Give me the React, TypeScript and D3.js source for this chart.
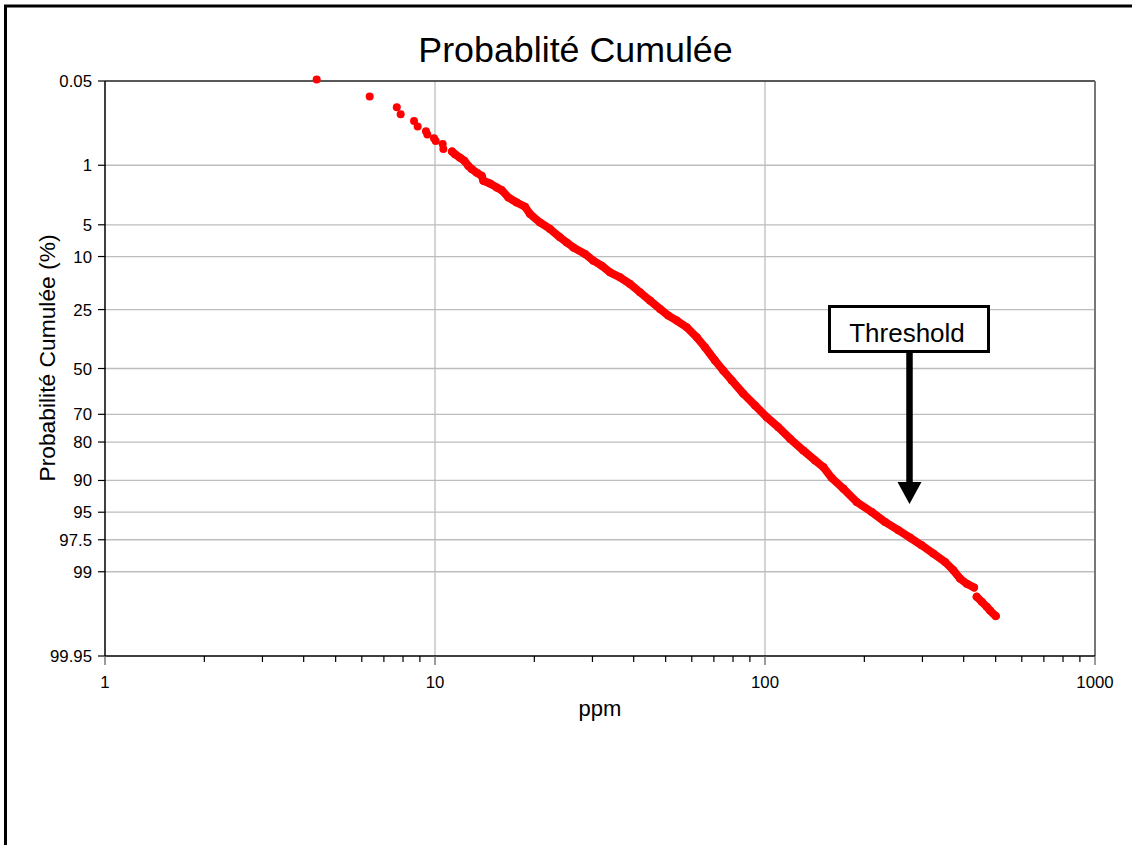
import { useEffect, useRef } from 'react';
import * as d3 from 'd3';

// y axis tick labels (cumulative probability, %)
const probTicks = [0.05, 1, 5, 10, 25, 50, 70, 80, 90, 95, 97.5, 99, 99.95];

// isolated low-end samples
const lowPpm = [4.38, 6.34, 7.66, 7.87, 8.64, 8.86, 9.39, 9.48, 9.93, 10.05, 10.55, 10.6];
const lowPct = [0.047, 0.093, 0.14, 0.18, 0.23, 0.28, 0.33, 0.37, 0.42, 0.46, 0.51, 0.6];

// dense body of the distribution
const mainPpm = [
  11.26, 11.5, 11.9, 12.27, 12.62, 12.92, 13.38, 13.85, 14.01, 14.68, 15.38, 15.93,
  16.68, 17.69, 18.74, 19.41, 20.8, 22.31, 23.92, 25.06, 26.25, 28.48, 30.18, 32.0,
  33.91, 36.36, 38.98, 41.8, 44.83, 48.07, 50.93, 54.0, 57.9, 62.1, 65.8, 70.55,
  74.7, 79.3, 86.0, 93.3, 101.2, 109.7, 119.1, 130.6, 141.8, 150.2, 159.2, 172.7,
  189.6, 210.6, 231.0, 253.5, 275.0, 298.4, 323.6, 351.3, 372.2, 389.9, 408.5, 429.9,
];
const mainPct = [
  0.65, 0.71, 0.79, 0.87, 1.02, 1.12, 1.25, 1.37, 1.58, 1.71, 1.91, 2.06,
  2.51, 2.87, 3.21, 3.85, 4.73, 5.51, 6.67, 7.45, 8.29, 9.49, 10.86, 11.96,
  13.55, 14.84, 16.65, 19.16, 21.86, 24.76, 27.23, 29.16, 31.85, 36.02, 40.4, 46.36,
  50.91, 55.45, 61.37, 66.38, 71.11, 74.89, 78.91, 82.57, 85.35, 87.03, 89.46, 91.54,
  93.67, 94.97, 96.05, 96.79, 97.35, 97.85, 98.29, 98.66, 98.95, 99.19, 99.31, 99.39,
];

// high-end tail
const highPpm = [438.1, 453.7, 469.8, 480.8, 500.3];
const highPct = [99.55, 99.62, 99.68, 99.72, 99.77];

// inverse of the standard normal CDF (Acklam)
function probit(p: number) {
  const a = [-39.69683028665376, 220.9460984245205, -275.9285104469687, 138.357751867269, -30.66479806614716, 2.506628277459239];
  const b = [-54.47609879822406, 161.5858368580409, -155.6989798598866, 66.80131188771972, -13.28068155288572];
  const c = [-0.007784894002430293, -0.3223964580411365, -2.400758277161838, -2.549732539343734, 4.374664141464968, 2.938163982698783];
  const d = [0.007784695709041462, 0.3224671290700398, 2.445134137142996, 3.754408661907416];
  const pl = 0.02425;
  if (p < pl) {
    const q = Math.sqrt(-2 * Math.log(p));
    return (((((c[0] * q + c[1]) * q + c[2]) * q + c[3]) * q + c[4]) * q + c[5]) / ((((d[0] * q + d[1]) * q + d[2]) * q + d[3]) * q + 1);
  }
  if (p <= 1 - pl) {
    const q = p - 0.5;
    const r = q * q;
    return (((((a[0] * r + a[1]) * r + a[2]) * r + a[3]) * r + a[4]) * r + a[5]) * q / (((((b[0] * r + b[1]) * r + b[2]) * r + b[3]) * r + b[4]) * r + 1);
  }
  const q = Math.sqrt(-2 * Math.log(1 - p));
  return -(((((c[0] * q + c[1]) * q + c[2]) * q + c[3]) * q + c[4]) * q + c[5]) / ((((d[0] * q + d[1]) * q + d[2]) * q + d[3]) * q + 1);
}

const FONT = "'Liberation Sans', Arial, sans-serif";

export default function App() {
  const svgRef = useRef<SVGSVGElement>(null);

  useEffect(() => {
    if (!svgRef.current) return;
    const svg = d3.select(svgRef.current);
    svg.selectAll('*').remove();

    const left = 105, right = 1095, top = 81, bottom = 656;

    const x = d3.scaleLog().domain([1, 1000]).range([left, right]);
    const z = d3.scaleLinear().domain([probit(0.0005), probit(0.9995)]).range([top, bottom]);
    const y = (pct: number) => z(probit(pct / 100));

    // outer frame (cropped)
    svg.append('path')
      .attr('d', `M5.5,860 L5.5,6 L1140,6`)
      .attr('fill', 'none')
      .attr('stroke', '#000')
      .attr('stroke-width', 3);

    // horizontal gridlines
    svg.append('g')
      .selectAll('line')
      .data(probTicks.slice(1, -1))
      .enter()
      .append('line')
      .attr('x1', left).attr('x2', right)
      .attr('y1', d => y(d)).attr('y2', d => y(d))
      .attr('stroke', '#bdbdbd')
      .attr('stroke-width', 1.3);

    // vertical gridlines
    svg.append('g')
      .selectAll('line')
      .data([10, 100])
      .enter()
      .append('line')
      .attr('x1', d => x(d)).attr('x2', d => x(d))
      .attr('y1', top).attr('y2', bottom)
      .attr('stroke', '#bdbdbd')
      .attr('stroke-width', 1.3);

    // plot frame
    svg.append('line').attr('x1', left).attr('x2', right).attr('y1', top).attr('y2', top)
      .attr('stroke', '#222').attr('stroke-width', 1.5);
    svg.append('line').attr('x1', right).attr('x2', right).attr('y1', top).attr('y2', bottom)
      .attr('stroke', '#777').attr('stroke-width', 2);

    // y axis
    svg.append('line').attr('x1', left).attr('x2', left).attr('y1', top).attr('y2', bottom)
      .attr('stroke', '#000').attr('stroke-width', 1.5);
    const yTicks = svg.append('g');
    yTicks.selectAll('line')
      .data(probTicks)
      .enter()
      .append('line')
      .attr('x1', left - 7).attr('x2', left)
      .attr('y1', d => y(d)).attr('y2', d => y(d))
      .attr('stroke', '#000').attr('stroke-width', 1.2);
    yTicks.selectAll('text')
      .data(probTicks)
      .enter()
      .append('text')
      .attr('x', left - 13)
      .attr('y', d => y(d) + 6)
      .attr('text-anchor', 'end')
      .style('font-family', FONT)
      .style('font-size', '16.8px')
      .attr('fill', '#000')
      .text(d => String(d));

    // x axis
    svg.append('line').attr('x1', left).attr('x2', right).attr('y1', bottom).attr('y2', bottom)
      .attr('stroke', '#000').attr('stroke-width', 1.5);
    const majors = [1, 10, 100, 1000];
    const minors = d3.range(0, 3).flatMap(e => d3.range(2, 10).map(k => k * Math.pow(10, e)));
    const xTicks = svg.append('g');
    xTicks.selectAll('line.minor')
      .data(minors)
      .enter()
      .append('line')
      .attr('class', 'minor')
      .attr('x1', d => x(d)).attr('x2', d => x(d))
      .attr('y1', bottom).attr('y2', bottom + 6)
      .attr('stroke', '#000').attr('stroke-width', 1.2);
    xTicks.selectAll('line.major')
      .data(majors)
      .enter()
      .append('line')
      .attr('class', 'major')
      .attr('x1', d => x(d)).attr('x2', d => x(d))
      .attr('y1', bottom).attr('y2', bottom + 9)
      .attr('stroke', '#666').attr('stroke-width', 1.3);
    xTicks.selectAll('text')
      .data(majors)
      .enter()
      .append('text')
      .attr('x', d => x(d))
      .attr('y', 688)
      .attr('text-anchor', 'middle')
      .style('font-family', FONT)
      .style('font-size', '16.8px')
      .attr('fill', '#000')
      .text(d => String(d));

    // titles
    svg.append('text')
      .attr('x', 575.5)
      .attr('y', 62)
      .attr('text-anchor', 'middle')
      .style('font-family', FONT)
      .style('font-size', '35.8px')
      .text('Probablité Cumulée');
    svg.append('text')
      .attr('x', 600)
      .attr('y', 716)
      .attr('text-anchor', 'middle')
      .style('font-family', FONT)
      .style('font-size', '22px')
      .text('ppm');
    svg.append('text')
      .attr('transform', 'translate(55,358) rotate(-90)')
      .attr('text-anchor', 'middle')
      .style('font-family', FONT)
      .style('font-size', '22.8px')
      .text('Probabilité Cumulée (%)');

    // data
    const red = '#ff0000';
    const line = d3.line<[number, number]>()
      .x(d => x(d[0]))
      .y(d => y(d[1]));
    const mainPts = mainPpm.map((v, i) => [v, mainPct[i]] as [number, number]);
    const highPts = highPpm.map((v, i) => [v, highPct[i]] as [number, number]);
    const lowPts = lowPpm.map((v, i) => [v, lowPct[i]] as [number, number]);

    [mainPts, highPts].forEach(run => {
      svg.append('path')
        .attr('d', line(run))
        .attr('fill', 'none')
        .attr('stroke', red)
        .attr('stroke-width', 8)
        .attr('stroke-linejoin', 'round')
        .attr('stroke-linecap', 'round');
    });
    svg.append('g')
      .selectAll('circle')
      .data([...lowPts, ...mainPts, ...highPts])
      .enter()
      .append('circle')
      .attr('cx', d => x(d[0]))
      .attr('cy', d => y(d[1]))
      .attr('r', 4)
      .attr('fill', red);

    // threshold annotation
    svg.append('rect')
      .attr('x', 829.5).attr('y', 306.5)
      .attr('width', 159).attr('height', 45)
      .attr('fill', '#fff')
      .attr('stroke', '#000')
      .attr('stroke-width', 3);
    svg.append('text')
      .attr('x', 907)
      .attr('y', 342)
      .attr('text-anchor', 'middle')
      .style('font-family', FONT)
      .style('font-size', '26px')
      .text('Threshold');
    svg.append('line')
      .attr('x1', 909.5).attr('x2', 909.5)
      .attr('y1', 353).attr('y2', 484)
      .attr('stroke', '#000')
      .attr('stroke-width', 6.5);
    svg.append('path')
      .attr('d', 'M897.5,482 L921.5,482 L909.5,504 Z')
      .attr('fill', '#000');
  }, []);

  return (
    <svg
      ref={svgRef}
      width={1132}
      height={845}
      style={{ position: 'absolute', left: 0, top: 0, background: '#fff' }}
    />
  );
}
